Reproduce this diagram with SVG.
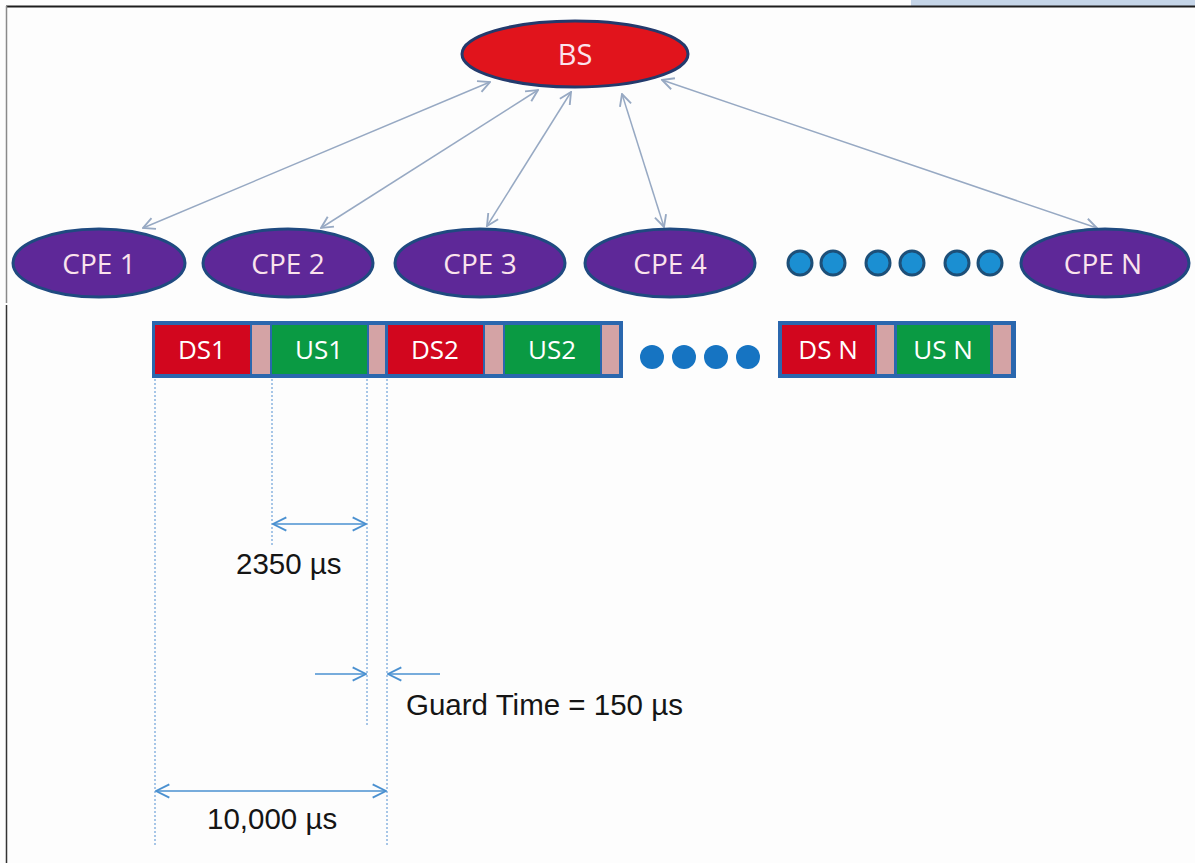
<svg xmlns="http://www.w3.org/2000/svg" width="1195" height="863" viewBox="0 0 1195 863">
<style>
.bs{fill:#e1141c;stroke:#233a6c;stroke-width:3}
.cpe{fill:#5e2898;stroke:#1f4a80;stroke-width:3}
.ntxt{font-family:"Open Sans","Noto Sans",sans-serif;fill:#fbe3ec;text-anchor:middle}
.dot{fill:#1b8fd2;stroke:#1d4f78;stroke-width:3}
.fdot{fill:#1674c2}
.conn{stroke:#97a9c3;stroke-width:1.5;fill:none}
.red{fill:#d2061e}
.green{fill:#0a9a43}
.guard{fill:#d4a3a5}
.ftxt{font-family:"Open Sans","Noto Sans",sans-serif;font-size:26px;fill:#ffffff;text-anchor:middle}
.dash{stroke:#8ab4e0;stroke-width:1.5;stroke-dasharray:2 2;fill:none}
.dim{stroke:#4a90d0;stroke-width:1.5;fill:none}
.lbl{font-family:"Liberation Sans",Arial,sans-serif;font-size:29.5px;fill:#151515}
</style>
<defs>
<marker id="ah" markerUnits="userSpaceOnUse" markerWidth="14" markerHeight="14" viewBox="0 0 12 12" refX="11" refY="6" orient="auto-start-reverse">
<path d="M1,1 L11,6 L1,11" fill="none" stroke="#97a9c3" stroke-width="1.6"/>
</marker>
<marker id="dh" markerUnits="userSpaceOnUse" markerWidth="16" markerHeight="16" viewBox="0 0 12 12" refX="11" refY="6" orient="auto-start-reverse">
<path d="M1,1 L11,6 L1,11" fill="none" stroke="#4a90d0" stroke-width="1.4"/>
</marker>
</defs>
<rect width="1195" height="863" fill="#fdfdfd"/>
<rect x="911" y="0" width="284" height="6" fill="#c5d5e8"/>
<line x1="6" y1="6.5" x2="1195" y2="6.5" stroke="#1e1e1e" stroke-width="2"/>
<line x1="6.5" y1="6" x2="6.5" y2="303" stroke="#8a8a8a" stroke-width="1.5"/>
<line x1="6.5" y1="305" x2="6.5" y2="863" stroke="#333" stroke-width="1.5"/>

<g id="connectors">
<line class="conn" x1="490" y1="82" x2="143" y2="228" marker-start="url(#ah)" marker-end="url(#ah)"/>
<line class="conn" x1="538" y1="90" x2="321" y2="228" marker-start="url(#ah)" marker-end="url(#ah)"/>
<line class="conn" x1="571" y1="92" x2="487" y2="226" marker-start="url(#ah)" marker-end="url(#ah)"/>
<line class="conn" x1="622" y1="94" x2="664" y2="227" marker-start="url(#ah)" marker-end="url(#ah)"/>
<line class="conn" x1="662" y1="80" x2="1097" y2="228" marker-start="url(#ah)" marker-end="url(#ah)"/>
</g>

<g id="BS">
<ellipse class="bs" cx="575" cy="54" rx="113" ry="33"/>
<text class="ntxt" x="575" y="65" font-size="29">BS</text>
</g>
<g id="CPE1">
<ellipse class="cpe" cx="99" cy="263" rx="86" ry="34"/>
<text class="ntxt" x="99" y="274" font-size="28">CPE 1</text>
</g>
<g id="CPE2">
<ellipse class="cpe" cx="288" cy="263" rx="85" ry="34"/>
<text class="ntxt" x="288" y="274" font-size="28">CPE 2</text>
</g>
<g id="CPE3">
<ellipse class="cpe" cx="480" cy="263" rx="85" ry="34"/>
<text class="ntxt" x="480" y="274" font-size="28">CPE 3</text>
</g>
<g id="CPE4">
<ellipse class="cpe" cx="670" cy="263" rx="85" ry="34"/>
<text class="ntxt" x="670" y="274" font-size="28">CPE 4</text>
</g>
<g id="CPEN">
<ellipse class="cpe" cx="1105" cy="263" rx="84" ry="34"/>
<text class="ntxt" x="1103" y="274" font-size="28">CPE N</text>
</g>
<g id="cpe-dots">
<circle class="dot" cx="800" cy="263" r="12"/>
<circle class="dot" cx="833" cy="263" r="12"/>
<circle class="dot" cx="878" cy="263" r="12"/>
<circle class="dot" cx="912" cy="263" r="12"/>
<circle class="dot" cx="957" cy="263" r="12"/>
<circle class="dot" cx="990" cy="263" r="12"/>
</g>

<g id="frame1">
<rect x="152" y="321" width="471" height="57" fill="#2a67ae"/>
<rect class="red" x="155" y="325" width="95" height="49"/>
<rect class="guard" x="252" y="325" width="18" height="49"/>
<rect class="green" x="272" y="325" width="95" height="49"/>
<rect class="guard" x="369" y="325" width="16" height="49"/>
<rect class="red" x="388" y="325" width="95" height="49"/>
<rect class="guard" x="485" y="325" width="18" height="49"/>
<rect class="green" x="505" y="325" width="95" height="49"/>
<rect class="guard" x="602" y="325" width="17" height="49"/>
<text class="ftxt" x="202" y="359">DS1</text>
<text class="ftxt" x="319" y="359">US1</text>
<text class="ftxt" x="435" y="359">DS2</text>
<text class="ftxt" x="552" y="359">US2</text>
</g>
<g id="frame-dots">
<circle class="fdot" cx="652" cy="357" r="12"/>
<circle class="fdot" cx="684" cy="357" r="12"/>
<circle class="fdot" cx="716" cy="357" r="12"/>
<circle class="fdot" cx="748" cy="357" r="12"/>
</g>
<g id="frameN">
<rect x="778" y="321" width="238" height="57" fill="#2a67ae"/>
<rect class="red" x="782" y="325" width="93" height="49"/>
<rect class="guard" x="877" y="325" width="17" height="49"/>
<rect class="green" x="897" y="325" width="93" height="49"/>
<rect class="guard" x="993" y="325" width="18" height="49"/>
<text class="ftxt" x="828" y="359">DS N</text>
<text class="ftxt" x="943" y="359">US N</text>
</g>

<g id="dimensions">
<line class="dash" x1="155" y1="379" x2="155" y2="845"/>
<line class="dash" x1="272" y1="379" x2="272" y2="545"/>
<line class="dash" x1="367" y1="379" x2="367" y2="725"/>
<line class="dash" x1="387" y1="379" x2="387" y2="845"/>
<line class="dim" x1="273" y1="524" x2="366" y2="524" marker-start="url(#dh)" marker-end="url(#dh)"/>
<line class="dim" x1="315" y1="674" x2="366" y2="674" marker-end="url(#dh)"/>
<line class="dim" x1="440" y1="674" x2="388" y2="674" marker-end="url(#dh)"/>
<line class="dim" x1="156" y1="791" x2="386" y2="791" marker-start="url(#dh)" marker-end="url(#dh)"/>
<text class="lbl" x="236" y="574">2350 µs</text>
<text class="lbl" x="406" y="715">Guard Time = 150 µs</text>
<text class="lbl" x="207" y="829">10,000 µs</text>
</g>
</svg>
